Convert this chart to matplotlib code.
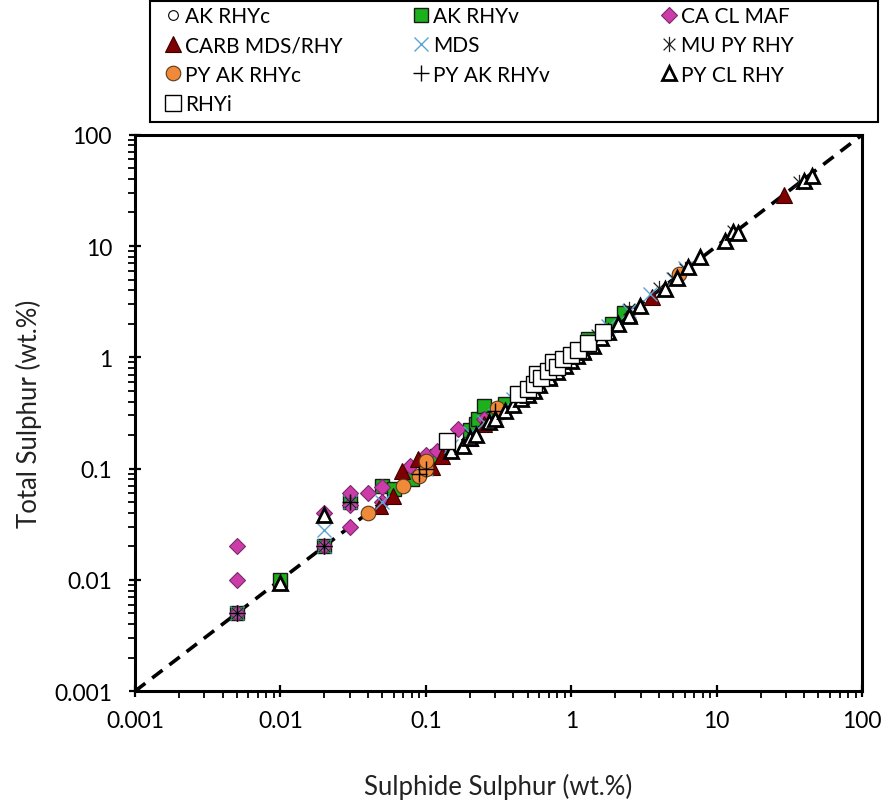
import matplotlib
matplotlib.use("Agg")
import matplotlib.pyplot as plt
from matplotlib.path import Path
from matplotlib.patches import Rectangle
from matplotlib.ticker import LogLocator, NullFormatter, FixedLocator, FixedFormatter

plt.rcParams["font.family"] = ["Lato", "DejaVu Sans"]

# Sulphide S (x) vs total S (y), wt.%
ak_rhyc_x = [0.02, 0.1, 0.3, 0.6, 1.0]
ak_rhyc_y = [0.02, 0.1, 0.3, 0.6, 1.0]

ak_rhyv_x = [0.005, 0.01, 0.02, 0.03, 0.05, 0.06, 0.08, 0.1, 0.12, 0.2, 0.22, 0.23, 0.25, 0.27, 0.35, 1.3, 1.9, 2.3]
ak_rhyv_y = [0.005, 0.01, 0.02, 0.05, 0.07, 0.065, 0.08, 0.11, 0.13, 0.22, 0.25, 0.28, 0.365, 0.28, 0.38, 1.45, 2.0, 2.5]

ca_cl_maf_x = [0.005, 0.005, 0.005, 0.02, 0.02, 0.03, 0.03, 0.03, 0.04, 0.05, 0.05, 0.078, 0.1, 0.12, 0.166, 0.25]
ca_cl_maf_y = [0.02, 0.01, 0.005, 0.02, 0.04, 0.06, 0.047, 0.03, 0.06, 0.068, 0.05, 0.106, 0.133, 0.145, 0.227, 0.28]

carb_x = [0.048, 0.059, 0.068, 0.088, 0.11, 0.13, 0.2, 0.25, 0.3, 0.45, 0.7, 1.2, 2.5, 3.6, 29.0]
carb_y = [0.046, 0.057, 0.096, 0.122, 0.103, 0.13, 0.19, 0.25, 0.28, 0.45, 0.68, 1.15, 2.45, 3.5, 29.0]

mds_x = [0.005, 0.02, 0.02, 0.03, 0.05, 0.1, 0.15, 0.2, 0.25, 0.3, 0.4, 0.5, 0.7, 1.0, 1.3, 1.8, 2.5, 3.5, 5.0, 6.0]
mds_y = [0.005, 0.028, 0.02, 0.05, 0.05, 0.1, 0.16, 0.21, 0.26, 0.3, 0.42, 0.5, 0.7, 1.0, 1.4, 1.9, 2.6, 3.7, 5.1, 6.3]

mu_py_x = [0.005, 0.02, 0.03, 0.2, 0.5, 1.5, 2.5, 4.0, 5.0, 6.0, 13.0, 37.0]
mu_py_y = [0.005, 0.02, 0.05, 0.2, 0.5, 1.6, 2.7, 4.2, 5.2, 6.2, 13.5, 37.8]

py_ak_rhyc_x = [0.04, 0.07, 0.09, 0.1, 0.1, 0.33, 0.31, 5.5]
py_ak_rhyc_y = [0.04, 0.07, 0.086, 0.1, 0.118, 0.32, 0.35, 5.6]

py_ak_rhyv_x = [0.005, 0.02, 0.03, 0.09, 0.1, 0.3, 0.6, 1.2]
py_ak_rhyv_y = [0.005, 0.02, 0.05, 0.09, 0.1, 0.33, 0.62, 1.25]

py_cl_rhy_x = [0.01, 0.02, 0.15, 0.18, 0.2, 0.22, 0.27, 0.3, 0.35, 0.4, 0.45, 0.5, 0.55, 0.6, 0.7, 0.8,
               0.9, 1.0, 1.1, 1.2, 1.42, 1.6, 1.8, 2.1, 2.5, 2.95, 4.4, 5.3, 6.3, 7.7, 11.4, 13.0, 14.0, 40.0, 45.0]
py_cl_rhy_y = [0.0093, 0.038, 0.145, 0.16, 0.19, 0.2, 0.26, 0.28, 0.33, 0.37, 0.42, 0.46, 0.5, 0.56, 0.65, 0.74,
               0.84, 0.93, 1.02, 1.12, 1.26, 1.48, 1.68, 2.0, 2.35, 2.9, 4.1, 5.2, 6.5, 8.0, 11.0, 13.4, 13.0, 38.0, 43.0]

rhyi_x = [0.14, 0.43, 0.5, 0.55, 0.58, 0.62, 0.69, 0.75, 0.8, 0.88, 1.0, 1.11, 1.3, 1.66]
rhyi_y = [0.178, 0.47, 0.52, 0.58, 0.71, 0.65, 0.76, 0.9, 0.82, 0.97, 1.05, 1.17, 1.35, 1.7]

# Excel-style "star": an X with a vertical stroke
STAR = Path([(-1, -1), (1, 1), (-1, 1), (1, -1), (0, -1.3), (0, 1.3)],
            [Path.MOVETO, Path.LINETO, Path.MOVETO, Path.LINETO, Path.MOVETO, Path.LINETO])

series = [
    ("AK RHYc", ak_rhyc_x, ak_rhyc_y, dict(marker="o", ms=7, mfc="white", mec="black", mew=0.8)),
    ("AK RHYv", ak_rhyv_x, ak_rhyv_y, dict(marker="s", ms=10, mfc="#1DB01D", mec="#1a1a1a", mew=1.0)),
    ("CA CL MAF", ca_cl_maf_x, ca_cl_maf_y, dict(marker="D", ms=8.5, mfc="#CC3CA8", mec="#7a2a6a", mew=0.8)),
    ("CARB MDS/RHY", carb_x, carb_y, dict(marker="^", ms=11, mfc="#7F0000", mec="#3a0000", mew=0.8)),
    ("MDS", mds_x, mds_y, dict(marker="x", ms=10, mfc="none", mec="#5AA5D6", mew=1.0)),
    ("MU PY RHY", mu_py_x, mu_py_y, dict(marker=STAR, ms=11, mfc="none", mec="#222222", mew=0.9)),
    ("PY AK RHYc", py_ak_rhyc_x, py_ak_rhyc_y, dict(marker="o", ms=10.5, mfc="#F0893A", mec="#5a3a1a", mew=0.8)),
    ("PY AK RHYv", py_ak_rhyv_x, py_ak_rhyv_y, dict(marker="+", ms=11, mfc="none", mec="black", mew=1.0)),
    ("PY CL RHY", py_cl_rhy_x, py_cl_rhy_y, dict(marker="^", ms=10.5, mfc="white", mec="black", mew=2.0)),
    ("RHYi", rhyi_x, rhyi_y, dict(marker="s", ms=11, mfc="white", mec="black", mew=1.0)),
]

W, H = 888, 803
fig = plt.figure(figsize=(W / 100, H / 100), dpi=100)
ax = fig.add_axes([0.152, 0.138, 0.819, 0.693])

ax.plot([0.001, 100], [0.001, 100], color="black", lw=2.6, ls=(0, (3.6, 2.4)), zorder=1)

handles = {}
for name, xs, ys, style in series:
    (h,) = ax.plot(xs, ys, ls="none", label=name, zorder=2, **style)
    handles[name] = h

ax.set_xscale("log")
ax.set_yscale("log")
ax.set_xlim(0.001, 100)
ax.set_ylim(0.001, 100)

ticks = [0.001, 0.01, 0.1, 1, 10, 100]
tick_labels = ["0.001", "0.01", "0.1", "1", "10", "100"]
for axis in (ax.xaxis, ax.yaxis):
    axis.set_major_locator(FixedLocator(ticks))
    axis.set_major_formatter(FixedFormatter(tick_labels))
    axis.set_minor_locator(LogLocator(base=10, subs=range(2, 10), numticks=20))
    axis.set_minor_formatter(NullFormatter())
ax.tick_params(which="major", direction="inout", length=9, width=1.6, labelsize=16.5, colors="black")
ax.tick_params(axis="x", which="major", pad=9)
ax.tick_params(axis="y", which="major", pad=12)
ax.tick_params(which="minor", direction="out", length=5, width=1.3)
for s in ax.spines.values():
    s.set_linewidth(2.2)

ax.set_xlabel("Sulphide Sulphur (wt.%)", fontsize=18.5, labelpad=30, color="#222222")
ax.set_ylabel("Total Sulphur (wt.%)", fontsize=18.5, labelpad=9, color="#222222")

# legend frame drawn on its own, columns placed like the original (row-wise reading)
fig.patches.append(Rectangle((150 / W, 1 - 123 / H), 728 / W, 121 / H, transform=fig.transFigure,
                             fill=False, edgecolor="black", lw=1.5))
columns = [["AK RHYc", "CARB MDS/RHY", "PY AK RHYc", "RHYi"],
           ["AK RHYv", "MDS", "PY AK RHYv"],
           ["CA CL MAF", "MU PY RHY", "PY CL RHY"]]
col_left = [165, 413, 661]
for names, x0 in zip(columns, col_left):
    fig.legend([handles[n] for n in names], names, loc="upper left",
               bbox_to_anchor=(x0 / W, 1 - 7 / H), frameon=False, fontsize=15,
               borderpad=0, borderaxespad=0, handlelength=0.75, handletextpad=0.2,
               labelspacing=0.45)

fig.savefig("out.png", dpi=100)
